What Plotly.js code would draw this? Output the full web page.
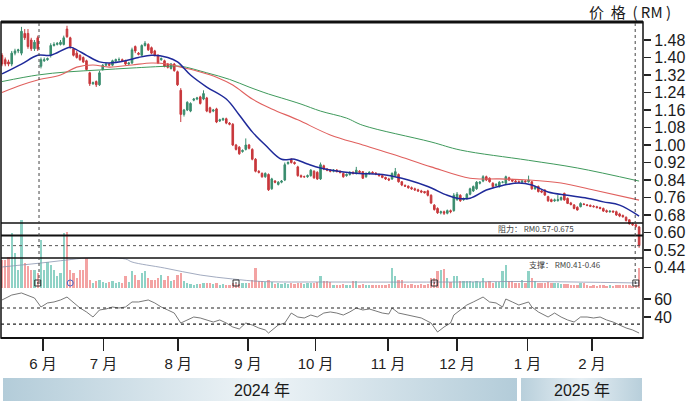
<!DOCTYPE html>
<html>
<head>
<meta charset="utf-8">
<script src="https://cdn.plot.ly/plotly-3.0.1.min.js"></script>
<style>html,body{margin:0;padding:0;background:#fff;}#chart{width:687px;height:401px;}</style>
</head>
<body>
<div id="chart"></div>
<script>
// ---- data (one entry per trading day) ----
const openP = [
1.41,1.39,1.38,1.37,1.42,1.43,1.42,1.51,1.51,1.48,
1.44,1.49,1.36,1.385,1.39,1.41,1.455,1.46,1.46,1.46,
1.53,1.49,1.44,1.42,1.41,1.40,1.385,1.33,1.28,1.29,
1.275,1.345,1.365,1.37,1.365,1.385,1.39,1.39,1.385,1.37,
1.375,1.45,1.42,1.41,1.455,1.46,1.445,1.43,1.41,1.39,
1.385,1.37,1.35,1.37,1.335,1.25,1.14,1.16,1.155,1.205,
1.21,1.22,1.21,1.215,1.17,1.155,1.165,1.11,1.115,1.12,
1.10,1.095,1.00,0.99,0.97,0.98,1.00,0.98,0.935,0.88,
0.87,0.855,0.865,0.80,0.835,0.82,0.83,0.84,0.915,0.935,
0.92,0.90,0.86,0.855,0.855,0.86,0.88,0.875,0.845,0.905,
0.89,0.885,0.88,0.885,0.878,0.87,0.86,0.865,0.875,0.87,
0.88,0.878,0.855,0.87,0.875,0.872,0.865,0.86,0.852,0.845,
0.845,0.86,0.865,0.832,0.815,0.812,0.805,0.80,0.795,0.79,
0.787,0.79,0.77,0.725,0.71,0.69,0.695,0.688,0.70,0.70,
0.75,0.77,0.75,0.755,0.775,0.79,0.80,0.825,0.835,0.855,
0.848,0.825,0.815,0.81,0.83,0.825,0.85,0.84,0.835,0.832,
0.83,0.835,0.832,0.832,0.80,0.81,0.79,0.794,0.764,0.75,
0.745,0.745,0.75,0.779,0.756,0.735,0.726,0.715,0.718,0.73,
0.726,0.724,0.72,0.718,0.714,0.71,0.70,0.695,0.698,0.695,
0.685,0.678,0.67,0.658,0.64,0.635,0.625];
const highP = [
1.42,1.40,1.39,1.43,1.44,1.44,1.54,1.53,1.53,1.49,
1.48,1.50,1.40,1.40,1.40,1.465,1.47,1.47,1.48,1.50,
1.545,1.495,1.445,1.43,1.415,1.405,1.39,1.335,1.29,1.295,
1.34,1.37,1.375,1.375,1.39,1.395,1.40,1.395,1.39,1.38,
1.445,1.455,1.425,1.46,1.475,1.465,1.45,1.435,1.415,1.40,
1.39,1.375,1.375,1.375,1.34,1.26,1.165,1.20,1.195,1.215,
1.22,1.225,1.25,1.22,1.175,1.165,1.17,1.12,1.125,1.125,
1.105,1.10,1.005,0.995,0.98,1.03,1.005,0.985,0.94,0.885,
0.875,0.875,0.87,0.85,0.84,0.835,0.84,0.92,0.925,0.94,
0.925,0.905,0.865,0.86,0.865,0.89,0.885,0.88,0.92,0.91,
0.895,0.89,0.89,0.89,0.885,0.875,0.87,0.88,0.88,0.90,
0.885,0.88,0.875,0.88,0.88,0.875,0.87,0.865,0.855,0.85,
0.875,0.895,0.87,0.835,0.82,0.815,0.81,0.805,0.80,0.795,
0.79,0.795,0.775,0.73,0.715,0.70,0.70,0.705,0.705,0.78,
0.785,0.775,0.76,0.78,0.805,0.815,0.835,0.835,0.862,0.86,
0.852,0.83,0.825,0.835,0.835,0.86,0.855,0.845,0.84,0.838,
0.84,0.84,0.86,0.835,0.81,0.815,0.795,0.798,0.768,0.755,
0.755,0.771,0.765,0.782,0.76,0.74,0.73,0.72,0.738,0.735,
0.73,0.728,0.725,0.722,0.718,0.714,0.705,0.70,0.70,0.70,
0.69,0.682,0.673,0.66,0.645,0.64,0.63];
const lowP = [
1.36,1.36,1.36,1.36,1.41,1.42,1.41,1.48,1.44,1.43,
1.43,1.43,1.35,1.38,1.385,1.40,1.45,1.455,1.455,1.455,
1.49,1.44,1.405,1.395,1.385,1.375,1.34,1.27,1.275,1.265,
1.27,1.34,1.36,1.36,1.36,1.38,1.385,1.38,1.365,1.365,
1.37,1.42,1.41,1.405,1.45,1.43,1.415,1.405,1.37,1.385,
1.355,1.35,1.345,1.335,1.27,1.105,1.13,1.155,1.15,1.20,
1.205,1.185,1.205,1.15,1.145,1.15,1.10,1.105,1.11,1.095,
1.09,0.995,0.975,0.955,0.965,0.975,0.98,0.93,0.875,0.87,
0.85,0.85,0.79,0.795,0.825,0.815,0.825,0.835,0.91,0.915,
0.91,0.855,0.85,0.85,0.85,0.855,0.845,0.84,0.84,0.885,
0.88,0.875,0.875,0.875,0.87,0.85,0.855,0.86,0.865,0.865,
0.87,0.845,0.85,0.865,0.868,0.862,0.855,0.848,0.84,0.835,
0.84,0.855,0.828,0.812,0.808,0.80,0.795,0.79,0.785,0.78,
0.778,0.765,0.73,0.70,0.685,0.683,0.68,0.683,0.688,0.695,
0.745,0.74,0.745,0.75,0.77,0.785,0.795,0.82,0.83,0.835,
0.828,0.805,0.81,0.805,0.825,0.82,0.835,0.83,0.828,0.825,
0.826,0.828,0.828,0.795,0.795,0.783,0.78,0.768,0.74,0.738,
0.74,0.742,0.745,0.745,0.73,0.724,0.706,0.70,0.715,0.725,
0.72,0.716,0.714,0.71,0.706,0.694,0.69,0.69,0.69,0.676,
0.67,0.668,0.65,0.636,0.63,0.622,0.53];
const closeP = [
1.37,1.37,1.37,1.42,1.43,1.435,1.52,1.49,1.45,1.44,
1.47,1.44,1.39,1.39,1.395,1.455,1.46,1.465,1.47,1.49,
1.495,1.45,1.41,1.40,1.39,1.38,1.345,1.28,1.285,1.275,
1.33,1.365,1.37,1.365,1.385,1.39,1.39,1.385,1.37,1.375,
1.435,1.43,1.415,1.455,1.465,1.435,1.42,1.41,1.375,1.395,
1.36,1.355,1.37,1.34,1.275,1.14,1.16,1.195,1.19,1.21,
1.215,1.19,1.235,1.155,1.15,1.16,1.105,1.115,1.12,1.10,
1.095,1.00,0.98,0.96,0.975,1.00,0.985,0.935,0.88,0.875,
0.855,0.87,0.795,0.845,0.83,0.83,0.835,0.91,0.92,0.92,
0.915,0.86,0.855,0.855,0.86,0.885,0.85,0.845,0.91,0.89,
0.885,0.88,0.885,0.878,0.875,0.855,0.865,0.875,0.87,0.885,
0.875,0.848,0.87,0.875,0.872,0.868,0.86,0.852,0.845,0.84,
0.87,0.878,0.832,0.817,0.812,0.805,0.80,0.795,0.79,0.785,
0.782,0.77,0.735,0.705,0.69,0.695,0.688,0.70,0.695,0.77,
0.775,0.745,0.755,0.775,0.80,0.81,0.83,0.83,0.855,0.84,
0.832,0.81,0.82,0.83,0.83,0.855,0.84,0.835,0.832,0.83,
0.835,0.832,0.84,0.80,0.805,0.787,0.785,0.771,0.745,0.742,
0.749,0.75,0.76,0.749,0.733,0.728,0.71,0.703,0.733,0.728,
0.724,0.72,0.718,0.714,0.71,0.698,0.695,0.698,0.694,0.68,
0.675,0.672,0.655,0.64,0.635,0.628,0.54];
const volume = [
28,28,31,55,35,18,68,25,22,18,
18,15,48,18,26,23,18,12,15,55,
56,18,15,10,18,18,30,8,5,7,
8,6,5,6,7,5,6,5,12,6,
17,13,8,15,17,10,8,8,10,13,
8,12,7,8,13,15,7,5,4,3,
4,4,5,5,5,4,5,3,4,3,
3,5,4,4,5,5,5,8,20,7,
7,6,8,6,4,5,4,5,4,5,
4,5,5,4,5,5,5,6,12,7,
7,6,3,3,3,4,3,3,7,7,
3,4,3,3,3,3,3,3,3,4,
20,12,8,8,4,3,4,3,3,4,
3,4,10,10,17,18,19,10,6,12,
12,7,7,7,7,6,7,6,10,6,
7,5,6,6,17,23,7,7,5,5,
8,5,17,10,7,5,5,5,6,5,
5,5,4,4,4,3,3,3,5,5,
3,2,3,2,3,3,2,3,2,3,
3,3,3,3,2,3,20];
// moving averages (read at sampled days)
const maShortIdx = [0,6,11,15,21,23,26,30,33,38,42,46,51,54,58,63,69,73,77,81,86,90,94,98,108,118,125,131,137,140,144,149,154,159,163,168,174,180,185,190,196];
const maShortVal = [1.325,1.37,1.41,1.41,1.447,1.435,1.41,1.38,1.375,1.385,1.40,1.41,1.40,1.38,1.32,1.265,1.21,1.137,1.06,1.00,0.935,0.935,0.913,0.895,0.872,0.863,0.84,0.81,0.77,0.757,0.757,0.794,0.815,0.826,0.817,0.785,0.77,0.757,0.74,0.725,0.675];
const maMidIdx = [0,6,11,18,23,28,33,40,46,51,55,61,66,71,77,83,91,101,111,121,132,144,153,162,172,182,196];
const maMidVal = [1.24,1.274,1.297,1.32,1.356,1.366,1.356,1.366,1.375,1.37,1.356,1.334,1.31,1.274,1.21,1.165,1.115,1.046,1.0,0.954,0.90,0.848,0.845,0.84,0.826,0.794,0.748];
const maLongIdx = [0,11,20,30,40,51,55,63,70,76,82,86,92,98,106,111,132,141,162,177,196];
const maLongVal = [1.29,1.32,1.334,1.343,1.352,1.36,1.36,1.33,1.30,1.265,1.233,1.215,1.187,1.155,1.123,1.09,1.014,0.977,0.93,0.895,0.835];
const volMaIdx = [0,6,12,20,26,38,40,50,61,71,80,100,140,160,196];
const volMaVal = [21,23,25,28,30,29,26,20,13,9,6.5,6,6,6.5,5];
const rsiIdx = [0,3,6,10,12,14,16,18,20,22,24,26,28,30,32,34,36,38,40,42,45,47,49,51,53,55,57,59,61,63,65,67,69,71,73,75,77,79,81,82,85,87,89,91,93,95,97,99,101,103,105,107,109,111,113,115,117,119,120,122,125,129,132,134,136,138,139,141,143,145,148,150,152,154,155,157,159,162,163,165,168,170,172,174,176,178,180,182,184,186,188,190,192,194,196];
const rsiVal = [58.9,64.4,66.7,61.1,51.1,55.6,56.7,58.9,62.2,55.6,50,45.6,40,47.8,48.9,51.1,50,51.1,56.7,56.7,58.9,55.6,51.1,47.8,44.4,33.3,36.7,40,38.9,36.7,34.4,36.7,33.3,28.9,26.7,33.3,31.1,27.8,25.6,22.2,31.1,33.3,44.4,40,38.9,42.2,40,44.4,45.6,44.4,42.2,45.6,50,47.8,48.9,46.7,44.4,43.3,50,44.4,42.2,38.9,33.3,23.3,28.9,33.3,42.2,47.8,53.3,56.7,62.2,56.7,55.6,51.1,60,56.7,53.3,56.7,51.1,45.6,40,44.4,40,36.7,34.4,40,40,38.9,40,36.7,34.4,31.1,27.8,25.6,22.2];
const markIdx = [11,72,133,195];
const circleIdx = [21];
const monthLabels = ['6 月','7 月','8 月','9 月','10 月','11 月','12 月','1 月','2 月'];
const monthPos = [12.6,31.2,54.2,75.7,96.5,118.8,140,161.7,181.5];
const priceTicks = [1.48,1.40,1.32,1.24,1.16,1.08,1.00,0.92,0.84,0.76,0.68,0.60,0.52,0.44];
const rsiTicks = [60,40];
const yearLabels = ['2024 年','2025 年'];
const resistText = '阻力： RM0.57-0.675';
const supportText = '支撑： RM0.41-0.46';
const titleText = '价\u00a0\u00a0格\u00a0\u00a0(\u00a0RM\u00a0)';

// ---- build ----
const days = openP.map((_, i) => i);
const upC = '#3a8d6e', dnC = '#c8383c';
const volColors = closeP.map((c, i) => c >= openP[i] ? '#8fd2c6' : '#f3a3a3');

const traces = [
  {type:'bar', x:days, y:volume, yaxis:'y', width:0.72, marker:{color:volColors, line:{width:0}}, hoverinfo:'skip'},
  {type:'scatter', mode:'lines', x:volMaIdx, y:volMaVal, yaxis:'y', line:{color:'#8a96b0', width:0.8, shape:'spline'}, hoverinfo:'skip'},
  {type:'scatter', mode:'markers', x:markIdx, y:markIdx.map(()=>5), yaxis:'y', marker:{symbol:'square-open-dot', size:6, color:'#333', line:{width:1}}, hoverinfo:'skip'},
  {type:'scatter', mode:'markers', x:circleIdx, y:circleIdx.map(()=>5), yaxis:'y', marker:{symbol:'circle-open', size:6, color:'#4466cc', line:{width:1}}, hoverinfo:'skip'},
  {type:'scatter', mode:'lines', x:maLongIdx, y:maLongVal, yaxis:'y2', line:{color:'#3f9a5c', width:1, shape:'spline'}, hoverinfo:'skip'},
  {type:'scatter', mode:'lines', x:maMidIdx, y:maMidVal, yaxis:'y2', line:{color:'#e0605e', width:1.1, shape:'spline'}, hoverinfo:'skip'},
  {type:'scatter', mode:'lines', x:maShortIdx, y:maShortVal, yaxis:'y2', line:{color:'#1f2a9a', width:1.5, shape:'spline'}, hoverinfo:'skip'},
  {type:'candlestick', x:days, open:openP, high:highP, low:lowP, close:closeP, yaxis:'y2', whiskerwidth:0,
   increasing:{line:{color:upC, width:1}, fillcolor:upC}, decreasing:{line:{color:dnC, width:1}, fillcolor:dnC}, hoverinfo:'skip'},
  {type:'scatter', mode:'lines', x:rsiIdx, y:rsiVal, yaxis:'y3', line:{color:'#555', width:0.8}, hoverinfo:'skip'}
];

function py(px){ return (338 - px) / 316; }   // pixel row -> paper fraction
function pxX(px){ return (px - 1) / 642; }     // pixel column -> paper fraction

function grad(c1, c2){
  const svg = "<svg xmlns='http://www.w3.org/2000/svg' width='200' height='20' preserveAspectRatio='none'><defs><linearGradient id='g' x1='0' x2='1' y1='0' y2='0'><stop offset='0' stop-color='"+c1+"'/><stop offset='0.5' stop-color='"+c2+"'/><stop offset='1' stop-color='"+c1+"'/></linearGradient></defs><rect width='200' height='20' fill='url(#g)'/></svg>";
  return 'data:image/svg+xml;charset=utf-8,' + encodeURIComponent(svg);
}

const axisFont = {family:'Liberation Sans, Arial, sans-serif', size:16, color:'#1a1a1a'};
const layout = {
  width:687, height:401,
  margin:{l:1, r:44, t:22, b:63, pad:0},
  paper_bgcolor:'#ffffff', plot_bgcolor:'rgba(0,0,0,0)',
  showlegend:false, bargap:0,
  font:{family:'Liberation Sans, Noto Sans CJK SC, sans-serif', color:'#222'},
  xaxis:{range:[-0.3,197.2], anchor:'y2', tickmode:'array', tickvals:monthPos, ticktext:monthLabels,
         ticks:'outside', ticklen:12, tickwidth:1.5, tickcolor:'#222', showgrid:false, zeroline:false,
         showline:false, rangeslider:{visible:false}, automargin:false,
         tickfont:{family:'Liberation Sans, Noto Sans CJK SC, sans-serif', size:15, color:'#222'}},
  yaxis:{domain:[py(288), py(218)], range:[0,70], visible:false, fixedrange:true},
  yaxis2:{domain:[0,1], range:[1.48-(338-40)/218.75, 1.48+(40-22)/218.75], side:'right', anchor:'x',
          tickmode:'array', tickvals:priceTicks, tickformat:'.2f', ticks:'outside', ticklen:7, tickwidth:1.5,
          tickcolor:'#222', tickfont:axisFont, showgrid:false, zeroline:false, showline:false, automargin:false},
  yaxis3:{domain:[0, py(288)], range:[40-21/0.9, 60+11/0.9], side:'right', anchor:'x',
          tickmode:'array', tickvals:rsiTicks, ticks:'outside', ticklen:7, tickwidth:1.5, tickcolor:'#222',
          tickfont:axisFont, showgrid:false, zeroline:false, showline:false, automargin:false},
  shapes:[
    {type:'rect', xref:'paper', yref:'paper', x0:0, x1:1, y0:0, y1:1, line:{color:'#111', width:1.5}},
    {type:'line', xref:'paper', yref:'paper', x0:0, x1:1, y0:1, y1:1, line:{color:'#111', width:3}},
    {type:'line', xref:'paper', yref:'paper', x0:0, x1:1, y0:0, y1:0, line:{color:'#111', width:2}},
    {type:'line', xref:'paper', yref:'paper', x0:0, x1:1, y0:py(223), y1:py(223), line:{color:'#111', width:1.5}},
    {type:'line', xref:'paper', yref:'paper', x0:0, x1:1, y0:py(235.5), y1:py(235.5), line:{color:'#111', width:2}},
    {type:'line', xref:'paper', yref:'paper', x0:0, x1:1, y0:py(258), y1:py(258), line:{color:'#111', width:1.5}},
    {type:'line', xref:'paper', yref:'y2', x0:0, x1:1, y0:closeP[closeP.length-1], y1:closeP[closeP.length-1], line:{color:'#555', width:1, dash:'dot'}},
    {type:'line', xref:'x', yref:'paper', x0:11.4, x1:11.4, y0:py(284), y1:1, line:{color:'#444', width:1, dash:'dot'}},
    {type:'line', xref:'x', yref:'paper', x0:194.8, x1:194.8, y0:py(284), y1:1, line:{color:'#444', width:1, dash:'dot'}},
    {type:'line', xref:'paper', yref:'y3', x0:0, x1:1, y0:50, y1:50, line:{color:'#222', width:1.2, dash:'dot'}},
    {type:'line', xref:'paper', yref:'y3', x0:0, x1:1, y0:32, y1:32, line:{color:'#222', width:1.2, dash:'dot'}}
  ],
  images:[
    {source:grad('#b3ccd9','#eef4f7'), xref:'paper', yref:'paper', x:pxX(3), y:py(378), sizex:(517-3)/642, sizey:23/316, xanchor:'left', yanchor:'top', sizing:'stretch', layer:'below'},
    {source:grad('#b8cfdb','#e6eff4'), xref:'paper', yref:'paper', x:pxX(521), y:py(378), sizex:(642-521)/642, sizey:23/316, xanchor:'left', yanchor:'top', sizing:'stretch', layer:'below'}
  ],
  annotations:[
    {text:titleText, xref:'paper', yref:'paper', x:pxX(630), y:py(11), showarrow:false, xanchor:'center', yanchor:'middle',
     font:{family:'Noto Sans CJK SC, Liberation Sans, sans-serif', size:15, color:'#1a1a1a'}},
    {text:yearLabels[0], xref:'paper', yref:'paper', x:pxX(262), y:py(390), showarrow:false, xanchor:'center', yanchor:'middle',
     font:{family:'Liberation Sans, Noto Sans CJK SC, sans-serif', size:16, color:'#1a1a1a'}},
    {text:yearLabels[1], xref:'paper', yref:'paper', x:pxX(582), y:py(390), showarrow:false, xanchor:'center', yanchor:'middle',
     font:{family:'Liberation Sans, Noto Sans CJK SC, sans-serif', size:16, color:'#1a1a1a'}},
    {text:resistText, xref:'paper', yref:'paper', x:pxX(536), y:py(229), showarrow:false, xanchor:'center', yanchor:'middle',
     font:{family:'Noto Sans CJK SC, sans-serif', size:8, color:'#444'}},
    {text:supportText, xref:'paper', yref:'paper', x:pxX(565), y:py(264), showarrow:false, xanchor:'center', yanchor:'middle',
     font:{family:'Noto Sans CJK SC, sans-serif', size:8, color:'#444'}}
  ]
};

Plotly.newPlot('chart', traces, layout, {staticPlot:true, displayModeBar:false});
</script>
</body>
</html>
